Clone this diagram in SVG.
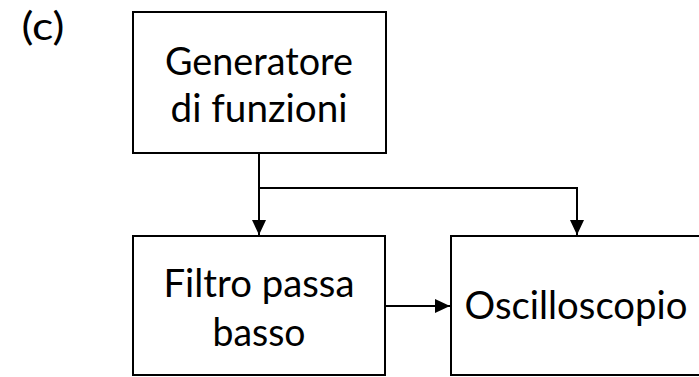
<svg xmlns="http://www.w3.org/2000/svg" width="699" height="377" viewBox="0 0 699 377">
<defs>
<style>
.box{fill:#fff;stroke:#000;stroke-width:2}
.lbl{font-family:Lato,"Open Sans","Liberation Sans",sans-serif;font-size:39px;fill:#000;text-anchor:middle}
.wire{fill:none;stroke:#000;stroke-width:2}
</style>
<marker id="arr" viewBox="0 0 15 14" refX="15" refY="7" markerWidth="15" markerHeight="14" markerUnits="userSpaceOnUse" orient="auto">
<path d="M0,0 L15,7 L0,14 Z" fill="#000"/>
</marker>
</defs>
<rect width="699" height="377" fill="#fff"/>
<text x="43" y="40" class="lbl" textLength="43" lengthAdjust="spacingAndGlyphs">(c)</text>
<g id="generatore">
<rect class="box" x="133" y="12" width="253" height="141"/>
<text class="lbl" x="259" y="75" textLength="188" lengthAdjust="spacingAndGlyphs">Generatore</text>
<text class="lbl" x="259" y="122" textLength="177" lengthAdjust="spacingAndGlyphs">di funzioni</text>
</g>
<g id="filtro">
<rect class="box" x="133" y="236" width="252" height="139"/>
<text class="lbl" x="259" y="297" textLength="191" lengthAdjust="spacingAndGlyphs">Filtro passa</text>
<text class="lbl" x="259" y="346" textLength="93" lengthAdjust="spacingAndGlyphs">basso</text>
</g>
<g id="oscilloscopio">
<rect class="box" x="451" y="236" width="252" height="139"/>
<text class="lbl" x="576" y="319" textLength="223" lengthAdjust="spacingAndGlyphs">Oscilloscopio</text>
</g>
<g id="connectors">
<path class="wire" d="M259,153 V235" marker-end="url(#arr)"/>
<path class="wire" d="M259,188 H577 V235" marker-end="url(#arr)"/>
<path class="wire" d="M385,306 H450" marker-end="url(#arr)"/>
</g>
</svg>
